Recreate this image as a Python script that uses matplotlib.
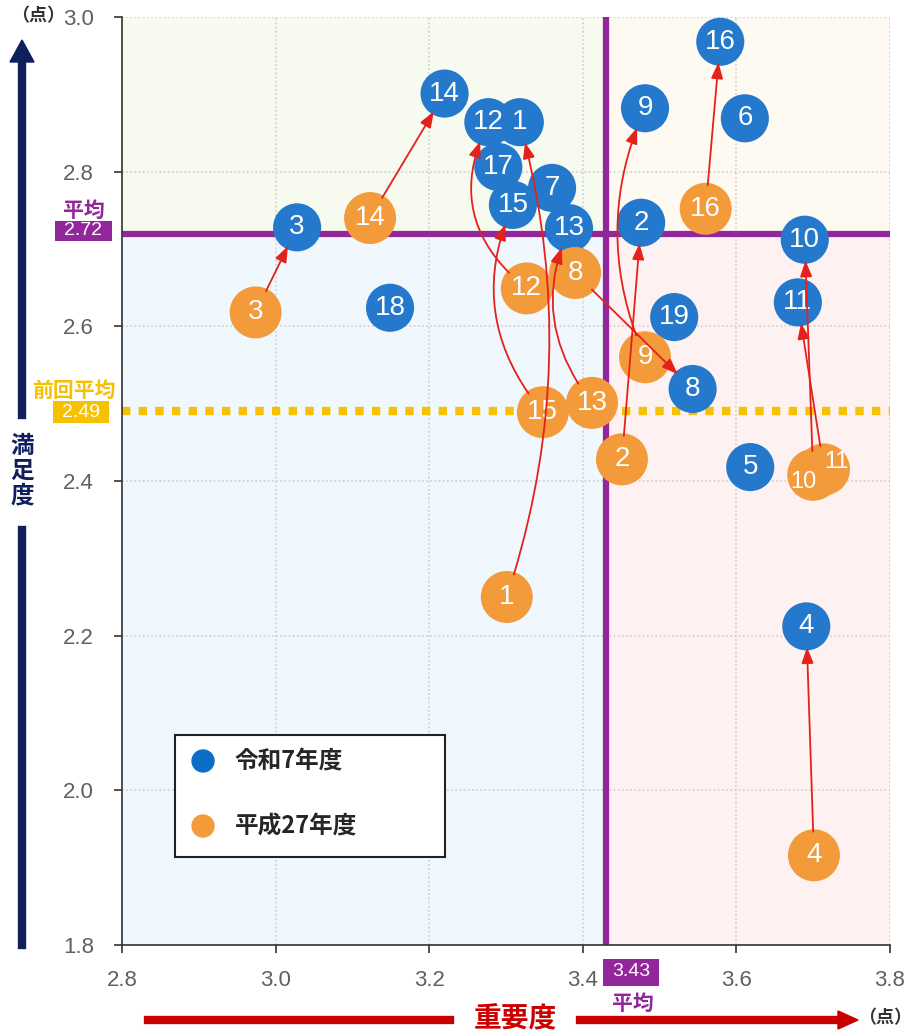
import matplotlib
matplotlib.use('Agg')
import matplotlib.pyplot as plt
from matplotlib.patches import Rectangle
from matplotlib.transforms import IdentityTransform

plt.rcParams['font.family'] = ['Noto Sans CJK JP', 'DejaVu Sans']

# 令和7年度 (重要度, 満足度)
new_ids = ['1', '2', '3', '4', '5', '6', '7', '8', '9', '10',
           '11', '12', '13', '14', '15', '16', '17', '18', '19']
new_x = [3.318, 3.476, 3.028, 3.691, 3.618, 3.611, 3.360, 3.543, 3.481, 3.689,
         3.680, 3.277, 3.382, 3.220, 3.309, 3.579, 3.290, 3.149, 3.519]
new_y = [2.864, 2.734, 2.728, 2.212, 2.418, 2.869, 2.779, 2.519, 2.882, 2.712,
         2.631, 2.864, 2.727, 2.901, 2.757, 2.968, 2.806, 2.624, 2.612]

# 平成27年度
old_ids = ['1', '2', '3', '4', '8', '9', '10', '11', '12', '13', '14', '15', '16']
old_x = [3.301, 3.451, 2.974, 3.701, 3.390, 3.481, 3.700, 3.714, 3.327, 3.412,
         3.123, 3.348, 3.560]
old_y = [2.250, 2.428, 2.618, 1.916, 2.669, 2.560, 2.408, 2.415, 2.649, 2.501,
         2.740, 2.489, 2.752]

avg_x = 3.43
avg_y = 2.72
prev_avg_y = 2.49

x_ticks = [2.8, 3.0, 3.2, 3.4, 3.6, 3.8]
y_ticks = [1.8, 2.0, 2.2, 2.4, 2.6, 2.8, 3.0]

# 矢印の曲がり具合
arrow_rad = {'1': 0.15, '9': -0.22, '12': -0.4, '13': -0.3, '15': -0.31}
# 重なったラベルのずらし (points)
label_shift = {'10': (-7, -5), '11': (9, 5)}

blue = '#2479cc'
orange = '#f39a3a'
purple = '#92279c'
gold = '#f5c100'
navy = '#0f1f5e'
red = '#e3221c'
num_font = ['Liberation Sans', 'DejaVu Sans']

W, H = 910, 1034
fig = plt.figure(figsize=(W / 100, H / 100), dpi=100)
ax = fig.add_axes([122 / W, 89 / H, 768 / W, 928 / H])
ax.set_xlim(2.8, 3.8)
ax.set_ylim(1.8, 3.0)

# 象限の背景
ax.add_patch(Rectangle((2.8, avg_y), avg_x - 2.8, 3.0 - avg_y, fc='#f6faef', ec='none', zorder=0))
ax.add_patch(Rectangle((avg_x, avg_y), 3.8 - avg_x, 3.0 - avg_y, fc='#fefaf1', ec='none', zorder=0))
ax.add_patch(Rectangle((2.8, 1.8), avg_x - 2.8, avg_y - 1.8, fc='#f0f7fd', ec='none', zorder=0))
ax.add_patch(Rectangle((avg_x, 1.8), 3.8 - avg_x, avg_y - 1.8, fc='#fdf2f1', ec='none', zorder=0))

ax.set_axisbelow(True)
ax.grid(True, color='#cfcfcf', ls=(0, (1, 1.5)), lw=1.2)
ax.set_xticks(x_ticks)
ax.set_yticks(y_ticks)
ax.set_xticklabels([f'{v:.1f}' for v in x_ticks])
ax.set_yticklabels([f'{v:.1f}' for v in y_ticks])
ax.tick_params(direction='out', length=6, width=1.2, color='#333333',
               labelcolor='#606060', labelsize=16)
ax.tick_params(axis='x', pad=12)
ax.tick_params(axis='y', pad=14)
for lab in ax.get_xticklabels() + ax.get_yticklabels():
    lab.set_family(num_font)
for s in ['top', 'right']:
    ax.spines[s].set_visible(False)
for s in ['left', 'bottom']:
    ax.spines[s].set_color('#333333')
    ax.spines[s].set_linewidth(1.2)

# 平均線
ax.axvline(avg_x, color=purple, lw=4.5, zorder=2)
ax.axhline(avg_y, color=purple, lw=4.5, zorder=2)
ax.axhline(prev_avg_y, color=gold, lw=6, ls=(0, (1, 1)), dash_capstyle='butt', zorder=2)

# 点
ax.scatter(new_x, new_y, s=1200, color=blue, edgecolors='none', zorder=3)
ax.scatter(old_x, old_y, s=1400, color=orange, edgecolors='none', zorder=3.5)
for i, x, y in zip(new_ids, new_x, new_y):
    ax.text(x, y, i, color='white', ha='center', va='center', fontsize=20,
            family=num_font, zorder=4)
for i, x, y in zip(old_ids, old_x, old_y):
    dx, dy = label_shift.get(i, (0, 0))
    ax.annotate(i, (x, y), xytext=(dx, dy), textcoords='offset points',
                color='white', ha='center', va='center',
                fontsize=20 if i not in label_shift else 17,
                family=num_font, zorder=4.5)

# 前回 -> 今回 の矢印
for i, ox, oy in zip(old_ids, old_x, old_y):
    j = new_ids.index(i)
    rad = arrow_rad.get(i, 0)
    ax.annotate('', xy=(new_x[j], new_y[j]), xytext=(ox, oy),
                arrowprops=dict(arrowstyle='-|>,head_length=0.8,head_width=0.3',
                                mutation_scale=12, color=red, lw=1.3,
                                shrinkA=17, shrinkB=15,
                                connectionstyle=f'arc3,rad={rad}'),
                zorder=5)

# 凡例
ax.add_patch(Rectangle((0.069, 0.0948), 0.3516, 0.1315, transform=ax.transAxes,
                       fc='white', ec='#222222', lw=1.5, zorder=6))
ax.scatter([0.1055, 0.1055], [0.1983, 0.1282], s=250, color=['#0b6dc8', orange],
           transform=ax.transAxes, zorder=7)
ax.text(0.147, 0.1983, '令和7年度', transform=ax.transAxes, va='center', ha='left',
        fontsize=17, fontweight='bold', color='#262626', zorder=7)
ax.text(0.147, 0.1282, '平成27年度', transform=ax.transAxes, va='center', ha='left',
        fontsize=17, fontweight='bold', color='#262626', zorder=7)

fig.canvas.draw()
ident = IdentityTransform()
yl = ax.transData.transform((0, avg_y))[1]
yp = ax.transData.transform((0, prev_avg_y))[1]
xl = ax.transData.transform((avg_x, 0))[0]


def box_label(cx, cy, w, h, txt, fc):
    fig.add_artist(Rectangle((cx - w / 2, cy - h / 2), w, h, transform=ident,
                             fc=fc, ec='none'))
    fig.text(cx, cy, txt, transform=ident, ha='center', va='center', color='white',
             fontsize=14, family=num_font)


box_label(83, yl + 3, 57, 20, f'{avg_y:.2f}', purple)
fig.text(84, yl + 23, '平均', transform=ident, ha='center', va='center',
         color=purple, fontsize=15, fontweight='bold')
box_label(81, yp - 1, 56, 22, f'{prev_avg_y:.2f}', gold)
fig.text(74, yp + 21, '前回平均', transform=ident, ha='center', va='center',
         color=gold, fontsize=15, fontweight='bold')
box_label(xl + 25, H - 972, 56, 27, f'{avg_x:.2f}', purple)
fig.text(xl + 27, H - 1003, '平均', transform=ident, ha='center', va='center',
         color=purple, fontsize=15, fontweight='bold')

# 軸の矢印
fig.add_artist(plt.Line2D([22, 22], [H - 945, H - 530], transform=ident, color=navy, lw=6))
fig.add_artist(plt.Line2D([22, 22], [H - 415, H - 60], transform=ident, color=navy, lw=6))
fig.add_artist(plt.Polygon([[10, H - 62], [34, H - 62], [22, H - 40]], transform=ident,
                           color=navy))
fig.text(22, H - 471, '満\n足\n度', transform=ident, ha='center', va='center',
         color=navy, fontsize=17, fontweight='bold', linespacing=1.05)

fig.add_artist(plt.Line2D([148, 450], [H - 1020, H - 1020], transform=ident, color='#c80000', lw=6))
fig.add_artist(plt.Line2D([580, 840], [H - 1020, H - 1020], transform=ident, color='#c80000', lw=6))
fig.add_artist(plt.Polygon([[838, H - 1011], [838, H - 1029], [858, H - 1020]], transform=ident,
                           color='#c80000'))
fig.text(515, H - 1019, '重要度', transform=ident, ha='center', va='center',
         color='#cc0000', fontsize=20, fontweight='bold')
fig.text(885, H - 1018, '（点）', transform=ident, ha='center', va='center',
         color='#333333', fontsize=13, fontweight='bold')
fig.text(38, H - 16, '（点）', transform=ident, ha='center', va='center',
         color='#333333', fontsize=13, fontweight='bold')

fig.savefig('out.png', dpi=100)
